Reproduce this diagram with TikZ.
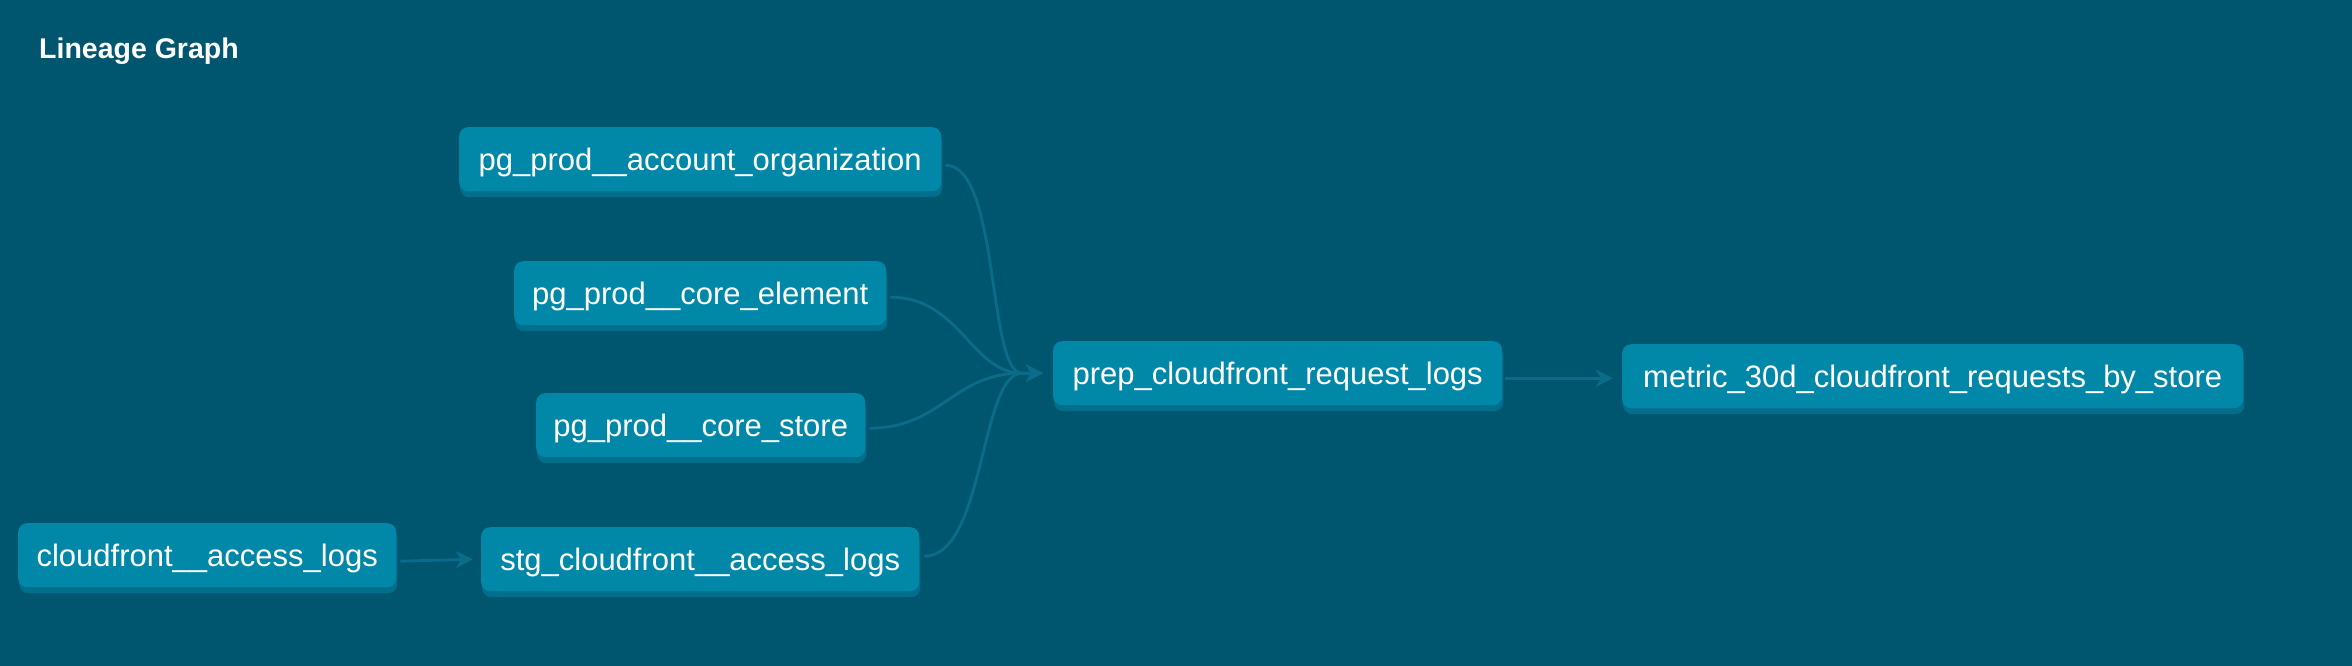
\documentclass[tikz,border=0pt]{standalone}
\usepackage{fontspec}
\setmainfont{Liberation Sans}
\usetikzlibrary{arrows.meta}
\definecolor{bg}{HTML}{00566F}
\definecolor{boxfill}{HTML}{0188A9}
\definecolor{boxshadow}{HTML}{016E8C}
\definecolor{edgecol}{HTML}{0B6C89}
\begin{document}
\begin{tikzpicture}[x=1pt,y=-1pt,
  box/.style={fill=boxfill, rounded corners=9pt, inner sep=0pt, text=white,
    font=\fontsize{31}{36}\selectfont, text height=24pt, text depth=2pt,
    anchor=north west, minimum height=64pt,
    preaction={fill=boxshadow, transform canvas={shift={(1pt,-6pt)}}}},
  edge/.style={draw=edgecol, line width=2.8pt, -{Stealth[length=17pt,width=17pt,inset=5pt]}},
  title/.style={text=white, font=\bfseries\fontsize{28.5}{34}\selectfont, inner sep=0pt, anchor=base west}]
\useasboundingbox (0,0) rectangle (2352,666);
\fill[bg] (0,0) rectangle (2352,666);

\node[title] (title) at (39,59) {Lineage Graph};

\node[box, minimum width=482pt] (org) at (459,127) {pg\_prod\_\_account\_organization};
\node[box, minimum width=372pt] (elem) at (514,261) {pg\_prod\_\_core\_element};
\node[box, minimum width=329pt] (store) at (536,393) {pg\_prod\_\_core\_store};
\node[box, minimum width=378pt] (cf) at (18,523) {cloudfront\_\_access\_logs};
\node[box, minimum width=438pt] (stg) at (481,527) {stg\_cloudfront\_\_access\_logs};
\node[box, minimum width=449pt] (prep) at (1053,341) {prep\_cloudfront\_request\_logs};
\node[box, minimum width=621pt] (metric) at (1622,344) {metric\_30d\_cloudfront\_requests\_by\_store};

\coordinate (conv) at ([shift={(-31,0)}]prep.west);
\coordinate (tip) at ([shift={(-10,0)}]prep.west);

\draw[edge] ([shift={(4,6)}]org.east) .. controls (1000,165) and (987,373) .. (conv) -- (tip);
\draw[edge] ([shift={(4,4)}]elem.east) .. controls (960,297) and (971,373) .. (conv) -- (tip);
\draw[edge] ([shift={(4,3)}]store.east) .. controls (942,428) and (953,373) .. (conv) -- (tip);
\draw[edge] ([shift={(5,-3)}]stg.east) .. controls (985,556) and (980,373) .. (conv) -- (tip);

\draw[edge] ([shift={(4,6)}]cf.east) -- ([shift={(-8,0)}]stg.west);
\draw[edge] ([shift={(3,5)}]prep.east) -- ([shift={(-9,2)}]metric.west);
\end{tikzpicture}
\end{document}
